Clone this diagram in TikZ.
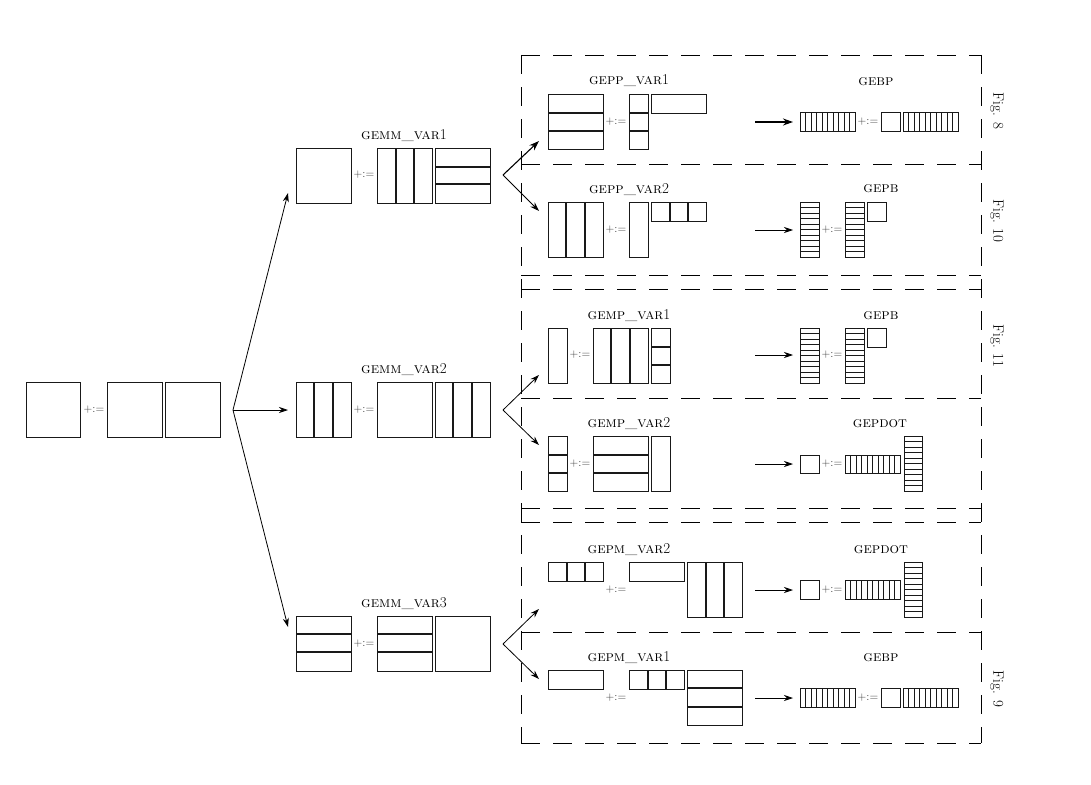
\documentclass[tikz,border=0pt]{standalone}
\usetikzlibrary{arrows.meta}
\tikzset{
  mline/.style={line width=0.9pt,black!90},
  pline/.style={line width=1.4pt,black!90},
  sline/.style={line width=0.6pt,black!90},
  lab/.style={font=\fontsize{15}{17}\selectfont, inner sep=0pt},
  op/.style={font=\fontsize{11.5}{13}\selectfont, text=black!80, inner sep=0pt},
  fig/.style={font=\fontsize{15}{17}\selectfont, rotate=-90, inner sep=0pt},
  arr/.style={-{Stealth[length=9pt,width=6pt]}, line width=0.8pt},
  tarr/.style={-{Stealth[length=10pt,width=7pt]}, line width=1.5pt},
  dbox/.style={line width=0.8pt, dash pattern=on 19pt off 13pt}
}
\newcommand\Mat[4]{\draw[mline] (#1,#2) rectangle (#3,#4);}
% vertical partition lines at x
\newcommand\VP[3]{\draw[pline] (#1,#2) -- (#1,#3);}
% horizontal partition lines at y
\newcommand\HP[3]{\draw[pline] (#2,#1) -- (#3,#1);}
% vertical stripes
\newcommand\VS[4]{\foreach \i in {1,...,9}{\draw[sline] ({#1+(#3-#1)*\i/10},#2) -- ({#1+(#3-#1)*\i/10},#4);}\Mat{#1}{#2}{#3}{#4}}
% horizontal stripes
\newcommand\HS[4]{\foreach \i in {1,...,9}{\draw[sline] (#1,{#2+(#4-#2)*\i/10}) -- (#3,{#2+(#4-#2)*\i/10});}\Mat{#1}{#2}{#3}{#4}}
\begin{document}
\begin{tikzpicture}[x=1pt,y=-1pt]
\useasboundingbox (0,0) rectangle (1091,784);

% ---- top level ----
\Mat{26}{382}{80}{437}
\node[op] (op0) at (94,410) {+:=};
\Mat{107}{382}{162}{437}
\Mat{165}{382}{220}{437}
\coordinate (f0) at (233,410);
\coordinate (e1) at (288,193);
\coordinate (e2) at (288,410);
\coordinate (e3) at (288,627);
\draw[arr] (f0) -- (e1);
\draw[arr] (f0) -- (e2);
\draw[arr] (f0) -- (e3);

% ---- GEMM_VAR1 ----
\node[lab] (g1) at (404,136) {\textsc{gemm\_var}1};
\Mat{296}{148}{351}{203}
\node[op] at (364,175) {+:=};
\Mat{377}{148}{432}{203} \VP{396}{148}{203} \VP{414}{148}{203}
\Mat{435}{148}{490}{203} \HP{167}{435}{490} \HP{184}{435}{490}

% ---- GEMM_VAR2 ----
\node[lab] (g2) at (404,370) {\textsc{gemm\_var}2};
\Mat{296}{382}{351}{437} \VP{314}{382}{437} \VP{333}{382}{437}
\node[op] at (364,410) {+:=};
\Mat{377}{382}{432}{437}
\Mat{435}{382}{490}{437} \VP{453}{382}{437} \VP{472}{382}{437}

% ---- GEMM_VAR3 ----
\node[lab] (g3) at (404,604) {\textsc{gemm\_var}3};
\Mat{296}{616}{351}{671} \HP{634}{296}{351} \HP{652}{296}{351}
\node[op] at (364,644) {+:=};
\Mat{377}{616}{432}{671} \HP{634}{377}{432} \HP{652}{377}{432}
\Mat{435}{616}{490}{671}

% ---- second-level forks ----
\coordinate (f1) at (503,175);
\coordinate (f1a) at (539,141);
\coordinate (f1b) at (539,211);
\draw[tarr,line width=1.1pt] (f1) -- (f1a);
\draw[arr] (f1) -- (f1b);
\coordinate (f2) at (503,410);
\coordinate (f2a) at (539,375);
\coordinate (f2b) at (539,445);
\draw[arr] (f2) -- (f2a);
\draw[arr] (f2) -- (f2b);
\coordinate (f3) at (503,644);
\coordinate (f3a) at (539,609);
\coordinate (f3b) at (539,679);
\draw[arr] (f3) -- (f3a);
\draw[arr] (f3) -- (f3b);

% ---- dashed frames ----
\draw[dbox] (521,55) -- (981,55);
\draw[dbox] (521,164) -- (981,164);
\draw[dbox] (521,275) -- (981,275);
\draw[dbox] (521,289) -- (981,289);
\draw[dbox] (521,398) -- (981,398);
\draw[dbox] (521,508) -- (981,508);
\draw[dbox] (521,522) -- (981,522);
\draw[dbox] (521,632) -- (981,632);
\draw[dbox] (521,743) -- (981,743);
\draw[dbox] (521,55) -- (521,743);
\draw[dbox] (981,55) -- (981,743);

\node[fig] (fig8) at (997,111) {Fig. 8};
\node[fig] (fig10) at (997,221) {Fig. 10};
\node[fig] (fig11) at (997,346) {Fig. 11};
\node[fig] (fig9) at (997,689) {Fig. 9};

% ---- GEPP_VAR1 / GEBP ----
\node[lab] at (629,81) {\textsc{gepp\_var}1};
\Mat{548}{94}{603}{149} \HP{113}{548}{603} \HP{131}{548}{603}
\node[op] at (616,122) {+:=};
\Mat{629}{94}{648}{149} \HP{113}{629}{648} \HP{131}{629}{648}
\Mat{651}{94}{706}{113}
\coordinate (a1s) at (755,122); \coordinate (a1e) at (793,122);
\draw[tarr] (a1s) -- (a1e);
\node[lab] at (876,82) {\textsc{gebp}};
\VS{800}{112}{855}{131}
\node[op] at (868,122) {+:=};
\Mat{881}{112}{900}{131}
\VS{903}{112}{958}{131}

% ---- GEPP_VAR2 / GEPB ----
\node[lab] at (629,190) {\textsc{gepp\_var}2};
\Mat{548}{202}{603}{257} \VP{566}{202}{257} \VP{585}{202}{257}
\node[op] at (616,230) {+:=};
\Mat{629}{202}{648}{257}
\Mat{651}{202}{706}{221} \VP{670}{202}{221} \VP{688}{202}{221}
\coordinate (a2s) at (755,230); \coordinate (a2e) at (793,230);
\draw[arr] (a2s) -- (a2e);
\node[lab] at (881,189) {\textsc{gepb}};
\HS{800}{202}{819}{257}
\node[op] at (832,230) {+:=};
\HS{845}{202}{864}{257}
\Mat{867}{202}{886}{221}

% ---- GEMP_VAR1 / GEPB ----
\node[lab] at (629,316) {\textsc{gemp\_var}1};
\Mat{548}{328}{567}{383}
\node[op] at (580,355) {+:=};
\Mat{593}{328}{648}{383} \VP{611}{328}{383} \VP{630}{328}{383}
\Mat{651}{328}{670}{383} \HP{347}{651}{670} \HP{365}{651}{670}
\coordinate (a3s) at (755,355); \coordinate (a3e) at (793,355);
\draw[arr] (a3s) -- (a3e);
\node[lab] at (881,316) {\textsc{gepb}};
\HS{800}{328}{819}{383}
\node[op] at (832,355) {+:=};
\HS{845}{328}{864}{383}
\Mat{867}{328}{886}{347}

% ---- GEMP_VAR2 / GEPDOT ----
\node[lab] at (629,424) {\textsc{gemp\_var}2};
\Mat{548}{436}{567}{491} \HP{455}{548}{567} \HP{473}{548}{567}
\node[op] at (580,464) {+:=};
\Mat{593}{436}{648}{491} \HP{455}{593}{648} \HP{473}{593}{648}
\Mat{651}{436}{670}{491}
\coordinate (a4s) at (755,464); \coordinate (a4e) at (793,464);
\draw[arr] (a4s) -- (a4e);
\node[lab] at (880,424) {\textsc{gepdot}};
\Mat{800}{455}{819}{473}
\node[op] at (832,464) {+:=};
\VS{845}{455}{900}{473}
\HS{904}{436}{922}{491}

% ---- GEPM_VAR2 / GEPDOT ----
\node[lab] at (629,550) {\textsc{gepm\_var}2};
\Mat{548}{562}{603}{581} \VP{567}{562}{581} \VP{585}{562}{581}
\node[op] at (616,590) {+:=};
\Mat{629}{562}{684}{581}
\Mat{687}{562}{742}{617} \VP{706}{562}{617} \VP{724}{562}{617}
\coordinate (a5s) at (755,590); \coordinate (a5e) at (793,590);
\draw[arr] (a5s) -- (a5e);
\node[lab] at (881,550) {\textsc{gepdot}};
\Mat{800}{580}{819}{599}
\node[op] at (832,590) {+:=};
\VS{845}{580}{900}{599}
\HS{904}{562}{922}{617}

% ---- GEPM_VAR1 / GEBP ----
\node[lab] at (629,658) {\textsc{gepm\_var}1};
\Mat{548}{670}{603}{689}
\node[op] at (616,698) {+:=};
\Mat{629}{670}{684}{689} \VP{648}{670}{689} \VP{666}{670}{689}
\Mat{687}{670}{742}{725} \HP{688}{687}{742} \HP{707}{687}{742}
\coordinate (a6s) at (755,698); \coordinate (a6e) at (793,698);
\draw[arr] (a6s) -- (a6e);
\node[lab] at (881,658) {\textsc{gebp}};
\VS{800}{688}{855}{707}
\node[op] at (868,698) {+:=};
\Mat{881}{688}{900}{707}
\VS{903}{688}{958}{707}
\end{tikzpicture}
\end{document}
